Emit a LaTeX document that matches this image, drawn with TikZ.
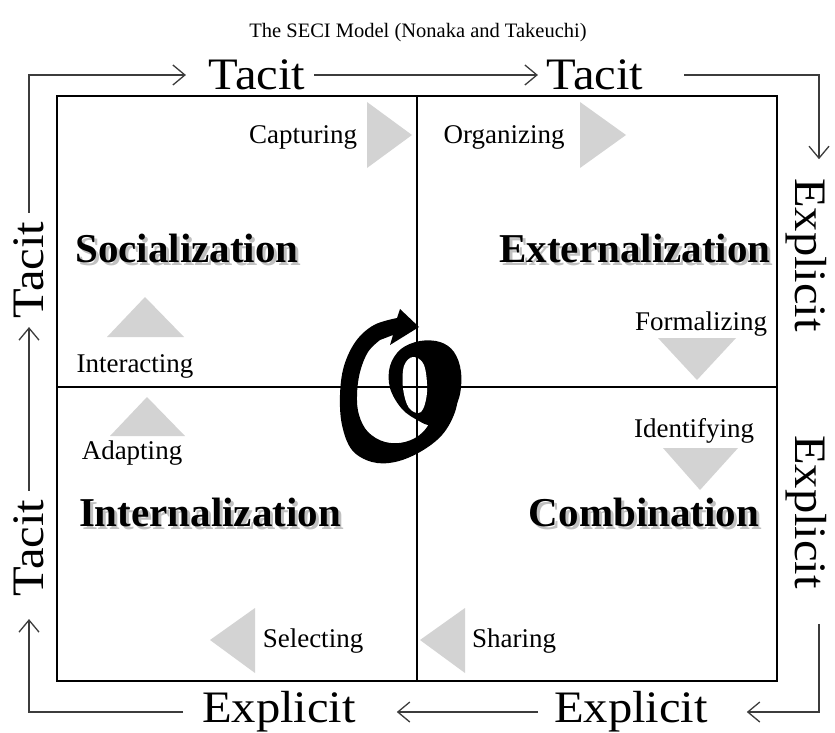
\documentclass[tikz,border=0pt]{standalone}
\usepackage{fontspec}
\setmainfont{Liberation Serif}
\usetikzlibrary{arrows.meta, calc}
\definecolor{flowgray}{RGB}{60,60,60}
\definecolor{cuegray}{RGB}{211,211,211}
\definecolor{shadowgray}{RGB}{150,150,150}

\begin{document}
\begin{tikzpicture}[x=1pt, y=-1pt,
    sidelabel/.style={font=\fontsize{45}{45}\selectfont, text depth=0pt, inner sep=8pt},
    quad/.style={font=\fontsize{41}{41}\selectfont\bfseries, text depth=0pt, inner sep=0pt},
    quadshadow/.style={quad, text=shadowgray, opacity=0.6},
    stage/.style={font=\fontsize{27}{27}\selectfont, text depth=0pt, inner sep=0pt},
    flow/.style={draw=flowgray, line width=1.3pt, -{Straight Barb[length=12pt, width=20pt]}},
    cue/.style={fill=cuegray}
]
\useasboundingbox (0,0) rectangle (835,733);

\node[font=\fontsize{20.5}{20.5}\selectfont] (title) at (418,33) {The SECI Model (Nonaka and Takeuchi)};

% spiral in the middle
\fill[black] plot[smooth, tension=0.6] coordinates {(460,385) (455,412) (442,435) (420,452) (395,462) (372,462) (352,450) (342,425) (340,395) (344,366) (356,341) (374,325) (397,318)}
    -- (400,309) -- (419,327) -- (390,345) -- (393,335)
    -- plot[smooth, tension=0.6] coordinates {(380,340) (368,352) (360,372) (357,395) (359,415) (368,432) (385,442) (405,442) (423,432) (436,410) (442,385)} -- cycle;
\fill[black] plot[smooth cycle, tension=0.6] coordinates {(419,421) (402,409) (390,388) (390,366) (401,349) (420,341) (440,342) (454,352) (461,372) (459,398) (447,418) (431,425)};
\fill[white] plot[smooth cycle, tension=0.6] coordinates {(403,388) (404,366) (413,357) (424,365) (427,392) (421,412) (409,408)};

% matrix
\draw[line width=1.5pt] (57,96) rectangle (777,681);
\draw[line width=1.1pt] (417,96) -- (417,681);
\draw[line width=1.1pt] (57,387) -- (777,387);

% quadrants
\node[quadshadow] (socS) at (190,251) {Socialization};
\node[quad] (soc) at (187,248) {Socialization};
\node[quadshadow] (extS) at (638,251) {Externalization};
\node[quad] (ext) at (635,248) {Externalization};
\node[quadshadow] (intS) at (213,515) {Internalization};
\node[quad] (int) at (210,512) {Internalization};
\node[quadshadow] (comS) at (647,515) {Combination};
\node[quad] (com) at (644,512) {Combination};

% stages
\node[stage] (capturing) at (303,135) {Capturing};
\node[stage] (organizing) at (504,135) {Organizing};
\node[stage] (formalizing) at (701,321) {Formalizing};
\node[stage] (identifying) at (694,428) {Identifying};
\node[stage] (interacting) at (135,364) {Interacting};
\node[stage] (adapting) at (132,450) {Adapting};
\node[stage] (selecting) at (313,638) {Selecting};
\node[stage] (sharing) at (514,638) {Sharing};

\fill[cue] (367,102) -- (412,135) -- (367,168) -- cycle;
\fill[cue] (580,102) -- (626,135) -- (580,168) -- cycle;
\fill[cue] (658,338) -- (736,338) -- (697,380) -- cycle;
\fill[cue] (663,448) -- (738,448) -- (700,490) -- cycle;
\fill[cue] (107,337) -- (184,337) -- (145,297) -- cycle;
\fill[cue] (110,436) -- (185,436) -- (147,397) -- cycle;
\fill[cue] (255,608) -- (210,640) -- (255,673) -- cycle;
\fill[cue] (465,608) -- (420,640) -- (465,673) -- cycle;

% knowledge flow round the matrix
\node[sidelabel, xscale=1.08] (tacitA) at (257,75) {Tacit};
\node[sidelabel, xscale=1.08] (tacitB) at (595,75) {Tacit};
\node[sidelabel, rotate=-90, xscale=1.08] (explA) at (811,255) {Explicit};
\node[sidelabel, rotate=-90, xscale=1.08] (explB) at (811,512) {Explicit};
\node[sidelabel, xscale=1.08] (explC) at (631,707) {Explicit};
\node[sidelabel, xscale=1.08] (explD) at (279,707) {Explicit};
\node[sidelabel, rotate=90, xscale=1.08] (tacitC) at (29,548) {Tacit};
\node[sidelabel, rotate=90, xscale=1.08] (tacitD) at (29,270) {Tacit};

\coordinate (cornerTR) at (819,75);
\coordinate (cornerBR) at (819,712);

\draw[flow, shorten >=14pt] (tacitD) |- (tacitA);
\draw[flow] (tacitA) -- (tacitB);
\draw[flow, shorten <=32pt, shorten >=10pt] (tacitB) -- (cornerTR) -- (cornerTR |- explA.west);
\draw[flow, shorten >=30pt] (cornerTR |- explB.east) ++(0,26) -- (cornerBR) -- (explC.east |- cornerBR);
\draw[flow, shorten <=7pt, shorten >=32pt] (explC.west |- cornerBR) -- (explD.east |- cornerBR);
\draw[flow, shorten <=10pt, shorten >=14pt] (explD.west |- cornerBR) -| (tacitC);
\draw[flow] (tacitC) -- (tacitD);
\end{tikzpicture}
\end{document}
